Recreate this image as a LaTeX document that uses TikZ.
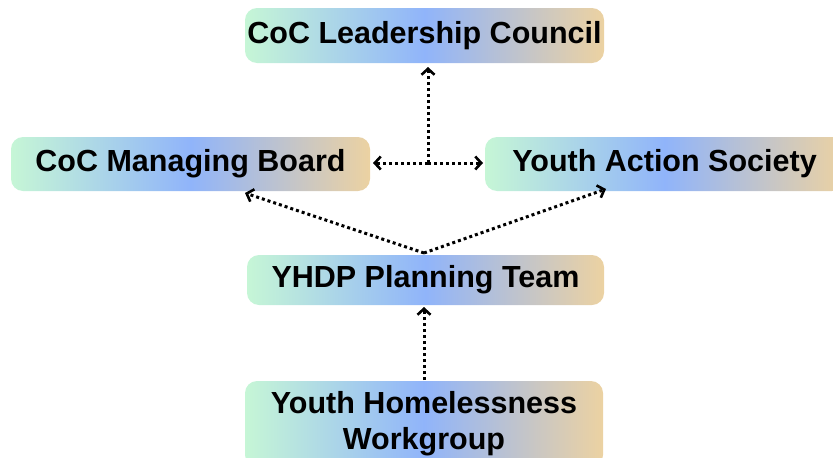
\documentclass[tikz,border=0pt]{standalone}
\usepackage{fontspec}
\setmainfont{Liberation Sans}
\usetikzlibrary{arrows.meta}
\definecolor{mint}{HTML}{C6F6D6}
\definecolor{midblue}{HTML}{90B4FA}
\definecolor{tan}{HTML}{ECD2A2}
\tikzset{
  box/.style={rounded corners=12pt, left color=mint, right color=tan, middle color=midblue,
    draw=none, inner sep=0pt, font=\fontsize{30.5}{36}\selectfont\bfseries, align=center},
  link/.style={line width=3pt, dash pattern=on 3pt off 3pt,
    -{Straight Barb[length=6pt,width=13pt,line width=2.6pt]}}
}
\begin{document}
\begin{tikzpicture}[x=1pt,y=-1pt]
\useasboundingbox (0,0) rectangle (833,458);
\clip (0,0) rectangle (833,458);
\node[box, minimum width=359pt, minimum height=55pt] (lc) at (424.5,35.5) {CoC Leadership Council};
\node[box, minimum width=359pt, minimum height=54pt] (mb) at (190.5,164) {CoC Managing Board};
\node[box, minimum width=359pt, minimum height=54pt] (yas) at (664.5,164) {Youth Action Society};
\node[box, minimum width=357pt, minimum height=50pt] (yp) at (425.5,280) {YHDP Planning Team};
\node[box, minimum width=358pt, minimum height=86pt] (wg) at (424,424) {Youth Homelessness\\Workgroup};
\coordinate (j) at (428,163);
\coordinate (ltop) at (428,67);
\coordinate (mbr) at (373,163);
\coordinate (yasl) at (483,163);
\coordinate (ypt) at (424,253);
\coordinate (mbb) at (245,193);
\coordinate (yasb) at (606,189);
\coordinate (wgt) at (424,380);
\coordinate (ypb) at (424,307);
\draw[link] (j) -- (ltop);
\draw[link] (j) -- (mbr);
\draw[link] (j) -- (yasl);
\draw[link] (ypt) -- (mbb);
\draw[link] (ypt) -- (yasb);
\draw[link] (wgt) -- (ypb);
\end{tikzpicture}
\end{document}
